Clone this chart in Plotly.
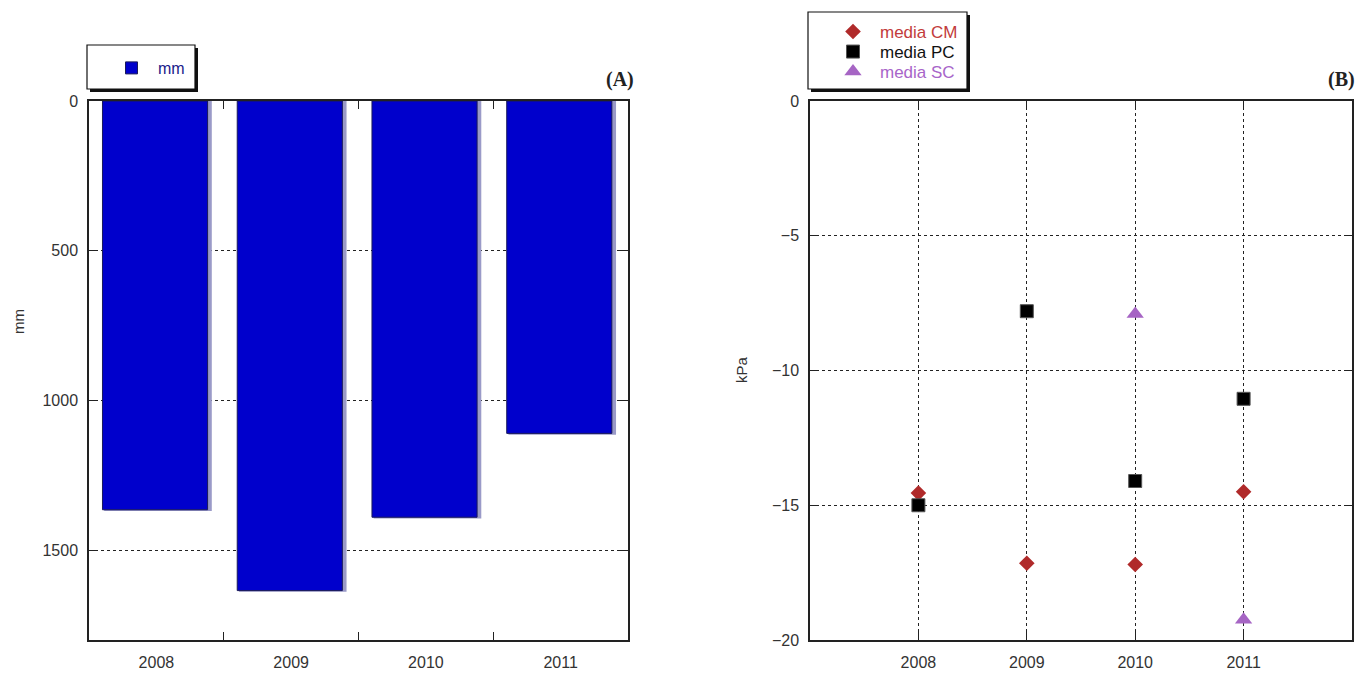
import plotly.graph_objects as go

# ---- data ----
years = ["2008", "2009", "2010", "2011"]
rain_mm = [1365, 1635, 1390, 1110]

years_b = [2008, 2009, 2010, 2011]
media_cm = [-14.55, -17.15, -17.2, -14.5]
media_pc = [-15.0, -7.8, -14.1, -11.05]
years_sc = [2010, 2011]
media_sc = [-7.9, -19.25]

W, H = 1359, 673
def px_x(p): return p / W
def px_y(p): return 1 - p / H

fig = go.Figure()

# Panel A bars (shadow + main)
fig.add_trace(go.Bar(x=years, y=rain_mm, xaxis="x", yaxis="y",
                     width=0.78, offset=-0.39 + 0.012,
                     marker=dict(color="#9a9ac8", line=dict(color="#9a9ac8", width=2.5)),
                     showlegend=False, hoverinfo="skip"))
fig.add_trace(go.Bar(x=years, y=rain_mm, xaxis="x", yaxis="y", name="mm",
                     width=0.78, offset=-0.39 - 0.01,
                     marker=dict(color="#0000cc", line=dict(color="#1a1a5a", width=1)),
                     legend="legend"))

# Panel B scatter
fig.add_trace(go.Scatter(x=years_b, y=media_cm, mode="markers", xaxis="x2", yaxis="y2",
                         name="<span style='color:#c23b3b'>media CM</span>",
                         marker=dict(symbol="diamond", size=12, color="#b02a2a"),
                         legend="legend2"))
fig.add_trace(go.Scatter(x=years_b, y=media_pc, mode="markers", xaxis="x2", yaxis="y2",
                         name="<span style='color:#111111'>media PC</span>",
                         marker=dict(symbol="square", size=13, color="#000000",
                                     line=dict(color="#555555", width=1)),
                         legend="legend3"))
fig.add_trace(go.Scatter(x=years_sc, y=media_sc, mode="markers", xaxis="x2", yaxis="y2",
                         name="<span style='color:#a865c9'>media SC</span>",
                         marker=dict(symbol="triangle-up", size=15, color="#a665c4"),
                         legend="legend4"))

tickfont = dict(family="Liberation Sans, Arial, sans-serif", size=16, color="#333333")
axline = dict(showline=True, linecolor="#222222", linewidth=1.5, mirror="allticks",
              ticks="inside", ticklen=8, tickcolor="#222222", tickwidth=1.2,
              tickfont=tickfont, zeroline=False, automargin=False)
grid = dict(showgrid=True, gridcolor="#222222", griddash="dot", gridwidth=1)

ytop, ybot = 101, 640
titlefont = dict(family="Liberation Sans, Arial, sans-serif", size=15, color="#333333")
serif = dict(family="Liberation Serif, Times New Roman, serif", size=20, color="#222222")

def rect(x0, y0, x1, y1, fill, line_w):
    return dict(type="rect", xref="paper", yref="paper", layer="above",
                x0=px_x(x0), x1=px_x(x1), y0=px_y(y1), y1=px_y(y0),
                fillcolor=fill, line=dict(color="#111111", width=line_w))

def leg(xp, yp, color):
    # legend whose single item is centred near pixel row yp
    return dict(x=px_x(xp), y=px_y(yp - 18), xanchor="left", yanchor="top",
                bgcolor="rgba(0,0,0,0)", borderwidth=0,
                font=dict(family="Liberation Sans, Arial", size=17, color=color),
                itemwidth=44, tracegroupgap=0)

fig.update_layout(
    width=W, height=H, autosize=False,
    margin=dict(l=0, r=0, t=0, b=0, pad=0),
    paper_bgcolor="white", plot_bgcolor="white",
    barmode="overlay",
    xaxis=dict(domain=[px_x(89), px_x(628)], anchor="y", type="category",
               tickson="boundaries", showgrid=False, range=[-0.5, 3.5],
               ticklabelstandoff=7, **axline),
    yaxis=dict(domain=[px_y(ybot), px_y(ytop)], anchor="x", range=[1800, 0],
               tickvals=[0, 500, 1000, 1500], ticklabelstandoff=6, **grid, **axline),
    xaxis2=dict(domain=[px_x(810), px_x(1352)], anchor="y2", range=[2007, 2012],
                tickvals=years_b, ticklabelstandoff=7, **grid, **axline),
    yaxis2=dict(domain=[px_y(ybot), px_y(ytop)], anchor="x2", range=[-20, 0],
                tickvals=[0, -5, -10, -15, -20], ticklabelstandoff=6, **grid, **axline),
    legend=dict(x=px_x(105), y=px_y(51), xanchor="left", yanchor="top",
                bgcolor="rgba(0,0,0,0)", borderwidth=0,
                font=dict(family="Liberation Sans, Arial", size=16, color="#1a1a8a"),
                itemwidth=43, tracegroupgap=0),
    legend2=leg(826, 32, "#c23b3b"),
    legend3=leg(826, 52, "#111111"),
    legend4=leg(826, 72, "#a865c9"),
    shapes=[
        rect(90, 48, 198, 92, "#111111", 0),
        rect(87, 45, 195, 89, "white", 1.2),
        rect(811, 15, 970, 92, "#111111", 0),
        rect(808, 12, 967, 89, "white", 1.2),
    ],
    annotations=[
        dict(text="<b>(A)</b>", x=px_x(636), y=px_y(79), xref="paper", yref="paper",
             xanchor="right", yanchor="middle", showarrow=False, font=serif),
        dict(text="<b>(B)</b>", x=px_x(1357), y=px_y(79), xref="paper", yref="paper",
             xanchor="right", yanchor="middle", showarrow=False, font=serif),
        dict(text="mm", x=px_x(18), y=px_y(322), xref="paper", yref="paper",
             textangle=-90, xanchor="center", yanchor="middle", showarrow=False, font=titlefont),
        dict(text="kPa", x=px_x(741), y=px_y(370), xref="paper", yref="paper",
             textangle=-90, xanchor="center", yanchor="middle", showarrow=False, font=titlefont),
    ],
)

fig.write_html("out.html", config={"displayModeBar": False},
               post_script="document.body.style.margin='0px';")
